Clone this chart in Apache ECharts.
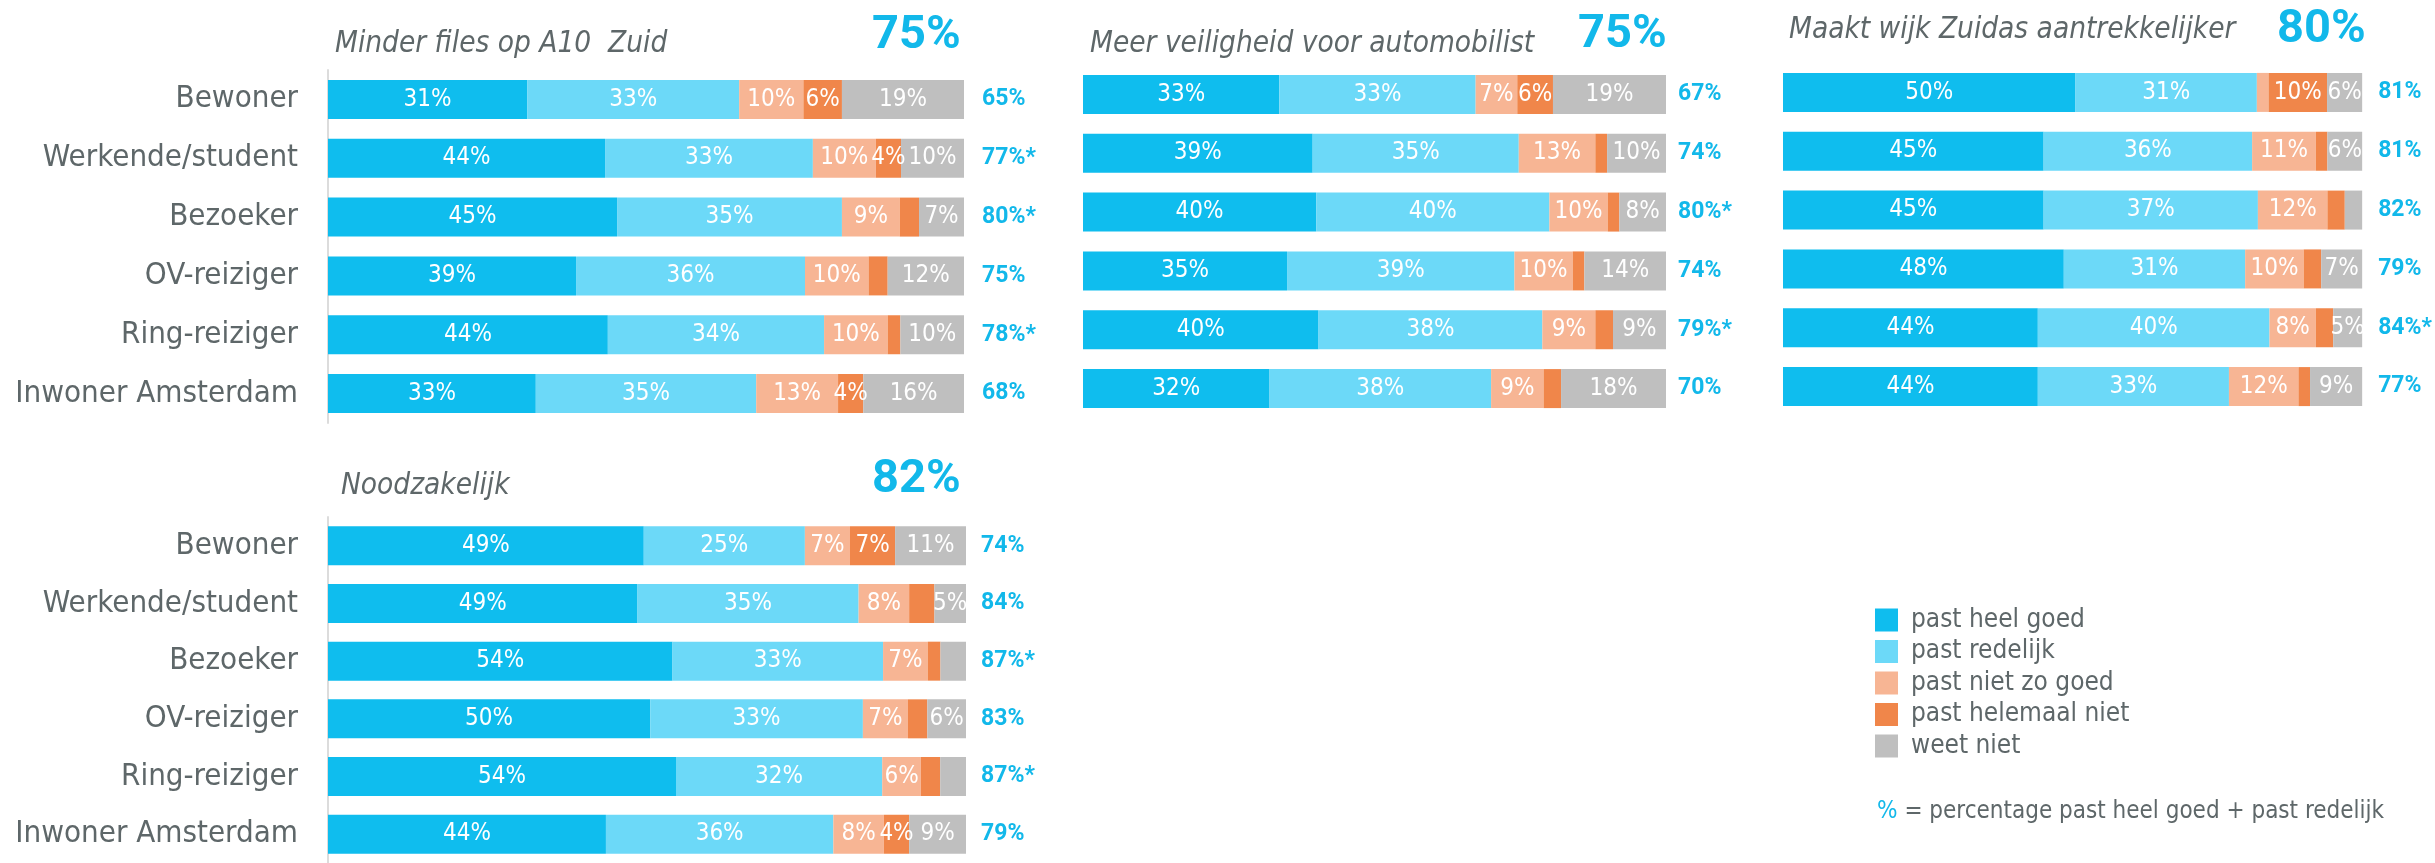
<!DOCTYPE html>
<html>
<head>
<meta charset="utf-8">
<script src="https://cdn.jsdelivr.net/npm/echarts@6/dist/echarts.min.js"></script>
<style>
  html, body { margin: 0; padding: 0; background: #fff; }
  #main { width: 2435px; height: 863px; }
</style>
</head>
<body>
<div id="main"></div>
<script>
var FONT = "'DejaVu Sans Condensed', 'Open Sans', sans-serif";
var NUM_FONT = "Roboto, 'DejaVu Sans Condensed', sans-serif";
var GRAY_TEXT = '#5e6769';
var BLUE_TEXT = '#12b8ea';

var categories = ['Bewoner', 'Werkende/student', 'Bezoeker', 'OV-reiziger', 'Ring-reiziger', 'Inwoner Amsterdam'];
var answers = ['past heel goed', 'past redelijk', 'past niet zo goed', 'past helemaal niet', 'weet niet'];
var colors = ['#0fbdee', '#6cd9f8', '#f7b594', '#f0864a', '#bfbfbf'];

var titles = ['Minder files op A10  Zuid', 'Meer veiligheid voor automobilist', 'Maakt wijk Zuidas aantrekkelijker', 'Noodzakelijk'];
var overall = ['75%', '75%', '80%', '82%'];

// one row per category, one column per answer
var filesA10 = [[31, 33, 10, 6, 19], [44, 33, 10, 4, 10], [45, 35, 9, 3, 7], [39, 36, 10, 3, 12], [44, 34, 10, 2, 10], [33, 35, 13, 4, 16]];
var filesTotals = ['65%', '77%*', '80%*', '75%', '78%*', '68%'];
var filesNoLabel = [[2, 3], [3, 3], [4, 3]];

var safety = [[33, 33, 7, 6, 19], [39, 35, 13, 2, 10], [40, 40, 10, 2, 8], [35, 39, 10, 2, 14], [40, 38, 9, 3, 9], [32, 38, 9, 3, 18]];
var safetyTotals = ['67%', '74%', '80%*', '74%', '79%*', '70%'];
var safetyNoLabel = [[1, 3], [2, 3], [3, 3], [4, 3], [5, 3]];

var zuidas = [[50, 31, 2, 10, 6], [45, 36, 11, 2, 6], [45, 37, 12, 3, 3], [48, 31, 10, 3, 7], [44, 40, 8, 3, 5], [44, 33, 12, 2, 9]];
var zuidasTotals = ['81%', '81%', '82%', '79%', '84%*', '77%'];
var zuidasNoLabel = [[0, 2], [1, 3], [2, 3], [2, 4], [3, 3], [4, 3], [5, 3]];

var needed = [[49, 25, 7, 7, 11], [49, 35, 8, 4, 5], [54, 33, 7, 2, 4], [50, 33, 7, 3, 6], [54, 32, 6, 3, 4], [44, 36, 8, 4, 9]];
var neededTotals = ['74%', '84%', '87%*', '83%', '87%*', '79%'];
var neededNoLabel = [[1, 3], [2, 3], [2, 4], [3, 3], [4, 3], [4, 4]];

var panels = [
  { rows: filesA10, totals: filesTotals, noLabel: filesNoLabel, grid: { left: 328, top: 70, width: 636, height: 353 }, labels: true,
    totalGap: 18, title: { left: 335, top: 29 }, big: { left: 872, top: 13 } },
  { rows: safety, totals: safetyTotals, noLabel: safetyNoLabel, grid: { left: 1083, top: 65, width: 583, height: 353 }, labels: false,
    totalGap: 12, title: { left: 1090, top: 29 }, big: { left: 1578, top: 12 } },
  { rows: zuidas, totals: zuidasTotals, noLabel: zuidasNoLabel, grid: { left: 1783, top: 63, width: 583, height: 353 }, labels: false,
    totalGap: 16, title: { left: 1789, top: 15 }, big: { left: 2277, top: 7 } },
  { rows: needed, totals: neededTotals, noLabel: neededNoLabel, grid: { left: 328, top: 517, width: 638, height: 353 }, labels: true,
    totalGap: 15, title: { left: 341, top: 471 }, big: { left: 872, top: 457 } }
];

var grids = [], xAxes = [], yAxes = [], series = [], titleList = [];

panels.forEach(function (p, g) {
  grids.push(p.grid);
  xAxes.push({ type: 'value', gridIndex: g, min: 0, max: 100, show: false });
  yAxes.push({
    type: 'category', gridIndex: g, inverse: true, data: categories, show: p.labels, offset: 2,
    axisLine: { lineStyle: { color: '#dcdcdc', width: 2 } },
    axisTick: { length: 8, lineStyle: { color: '#dcdcdc', width: 2 } },
    axisLabel: { color: GRAY_TEXT, fontSize: 31, fontFamily: FONT, margin: 28 }
  });
  yAxes.push({
    type: 'category', gridIndex: g, inverse: true, position: 'right', data: p.totals,
    axisLine: { show: false }, axisTick: { show: false },
    axisLabel: { color: BLUE_TEXT, fontSize: 23, fontWeight: 'bold', fontFamily: NUM_FONT, margin: p.totalGap }
  });
  answers.forEach(function (name, j) {
    var data = p.rows.map(function (r, i) {
      var sum = r.reduce(function (a, b) { return a + b; }, 0);
      var hide = p.noLabel.some(function (n) { return n[0] === i && n[1] === j; });
      return { value: r[j] / sum * 100, raw: r[j], label: { show: !hide } };
    });
    series.push({
      name: name, type: 'bar', stack: 'p' + g, xAxisIndex: g, yAxisIndex: g * 2,
      barWidth: 39, data: data,
      itemStyle: { color: colors[j] },
      label: {
        show: true, position: 'inside', color: '#fff', fontSize: 24, fontFamily: FONT,
        formatter: function (d) { return d.data.raw + '%'; }
      },
      emphasis: { disabled: true }
    });
  });
  titleList.push({
    text: titles[g], left: p.title.left, top: p.title.top, padding: 0,
    textStyle: { color: GRAY_TEXT, fontSize: 29.5, fontStyle: 'italic', fontWeight: 'normal', fontFamily: FONT }
  });
  titleList.push({
    text: overall[g], left: p.big.left, top: p.big.top, padding: 0,
    textStyle: { color: BLUE_TEXT, fontSize: 47, fontWeight: 'bold', fontFamily: NUM_FONT }
  });
});

titleList.push({
  text: '{b|%} = percentage past heel goed + past redelijk', left: 1877, top: 800, padding: 0,
  textStyle: {
    color: GRAY_TEXT, fontSize: 24, fontWeight: 'normal', fontFamily: FONT,
    rich: { b: { color: BLUE_TEXT, fontSize: 24, fontFamily: FONT } }
  }
});

var chart = echarts.init(document.getElementById('main'));
chart.setOption({
  animation: false,
  title: titleList,
  legend: {
    orient: 'vertical', left: 1875, top: 607, padding: 0,
    itemWidth: 23, itemHeight: 23, itemGap: 5.5, icon: 'rect',
    data: answers,
    textStyle: { color: GRAY_TEXT, fontSize: 26, fontFamily: FONT, padding: [0, 0, 0, 8] }
  },
  grid: grids,
  xAxis: xAxes,
  yAxis: yAxes,
  series: series
});
</script>
</body>
</html>
